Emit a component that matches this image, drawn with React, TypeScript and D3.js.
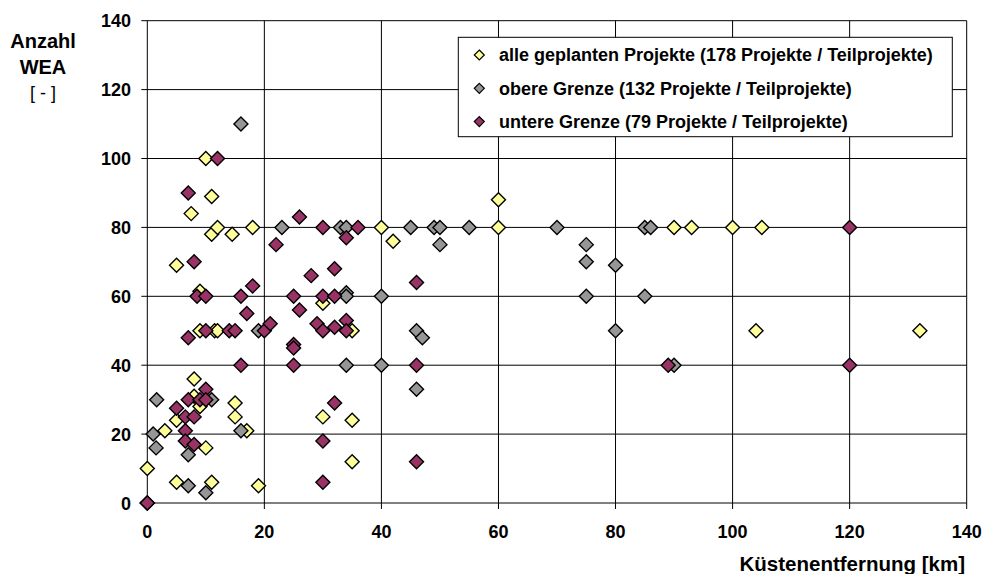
import React from "react";
import * as d3 from "d3";

type Pt = [number, number];

// alle geplanten Projekte
const allePlanned: Pt[] = [
  [0, 0], [0, 10], [3, 21], [5, 24], [5, 6], [5, 69], [7.5, 84], [8, 36], [8, 31],
  [9, 28], [9, 61.5], [9, 50], [10, 100], [10, 16], [11, 89], [11, 78], [11, 6],
  [11.5, 50], [12, 50], [12, 80], [14.5, 78], [15, 29], [15, 25], [17, 21], [18, 80],
  [19, 5], [30, 58], [30, 25], [35, 50], [35, 24], [35, 12], [40, 80], [42, 76],
  [60, 88], [60, 80], [90, 80], [93, 80], [100, 80], [104, 50], [105, 80], [132, 50],
];

// obere Grenze
const obereGrenze: Pt[] = [
  [0, 0], [1, 20], [1.5, 16], [1.6, 30], [7, 14], [7, 5], [10, 3], [11, 30], [16, 110],
  [16, 21], [19, 50], [23, 80], [33, 80], [34, 80], [34, 61], [34, 60], [34, 40],
  [40, 60], [40, 40], [45, 80], [46, 50], [46, 33], [47, 48], [49, 80], [50, 80],
  [50, 75], [55, 80], [70, 80], [75, 75], [75, 70], [75, 60], [80, 69], [80, 50],
  [85, 80], [86, 80], [85, 60], [90, 40],
];

// untere Grenze
const untereGrenze: Pt[] = [
  [0, 0], [5, 27.5], [6.5, 25], [6.5, 21], [6.5, 18], [7, 90], [7, 48], [7, 30],
  [8, 70], [8, 25], [8, 17], [8.5, 60], [9, 30], [10, 60], [10, 50], [10, 33], [10, 30],
  [12, 100], [14, 50], [15, 50], [16, 60], [16, 40], [17, 55], [18, 63], [20, 50],
  [21, 52], [22, 75], [25, 60], [25, 46], [25, 45], [25, 40], [26, 83], [26, 56],
  [28, 66], [29, 52], [30, 80], [30, 60], [30, 50], [30, 18], [30, 6], [32, 68],
  [32, 60], [32, 51], [32, 29], [34, 77], [34, 53], [34, 50], [36, 80], [46, 64],
  [46, 40], [46, 12], [89, 40], [120, 80], [120, 40],
];

const seriesNames = [
  "alle geplanten Projekte (178 Projekte / Teilprojekte)",
  "obere Grenze (132 Projekte / Teilprojekte)",
  "untere Grenze (79 Projekte / Teilprojekte)",
];
const seriesColors = ["#FFFF99", "#969696", "#993366"];
const xTicks = [0, 20, 40, 60, 80, 100, 120, 140];
const yTicks = [0, 20, 40, 60, 80, 100, 120, 140];

const W = 984;
const H = 574;
const left = 147.3, right = 966.7, top = 20.7, bottom = 503;
const font = "'Liberation Sans', Arial, sans-serif";

const diamond = (r: number) => `M0,${-r}L${r},0L0,${r}L${-r},0Z`;

export default function App() {
  const x = d3.scaleLinear().domain([0, 140]).range([left, right]);
  const y = d3.scaleLinear().domain([0, 140]).range([bottom, top]);
  const series = [allePlanned, obereGrenze, untereGrenze];

  return (
    <svg width={W} height={H} style={{ position: "absolute", left: 0, top: 0, background: "#fff" }}>
      {/* grid */}
      {xTicks.map((t) => (
        <line key={"gx" + t} x1={x(t)} x2={x(t)} y1={top} y2={bottom + 6} stroke="#000" strokeWidth={1} />
      ))}
      {yTicks.map((t) => (
        <line key={"gy" + t} x1={left - 6} x2={right} y1={y(t)} y2={y(t)} stroke="#000" strokeWidth={1} />
      ))}

      {/* tick labels */}
      {yTicks.map((t) => (
        <text key={"ly" + t} x={131} y={y(t) + 6.5} textAnchor="end" fontFamily={font} fontWeight="bold" fontSize={18}>
          {t}
        </text>
      ))}
      {xTicks.map((t) => (
        <text key={"lx" + t} x={x(t)} y={538} textAnchor="middle" fontFamily={font} fontWeight="bold" fontSize={18}>
          {t}
        </text>
      ))}

      {/* axis titles */}
      <text x={43} y={48.3} textAnchor="middle" fontFamily={font} fontWeight="bold" fontSize={20}>Anzahl</text>
      <text x={43} y={74} textAnchor="middle" fontFamily={font} fontWeight="bold" fontSize={20}>WEA</text>
      <text x={43} y={99} textAnchor="middle" fontFamily={font} fontSize={18}>[ - ]</text>
      <text x={965} y={571} textAnchor="end" fontFamily={font} fontWeight="bold" fontSize={20.5}>Küstenentfernung [km]</text>

      {/* points */}
      {series.map((s, i) => (
        <g key={"s" + i}>
          {s.map((d, j) => (
            <path
              key={j}
              d={diamond(7)}
              transform={`translate(${x(d[0])},${y(d[1])})`}
              fill={seriesColors[i]}
              stroke="#000"
              strokeWidth={1.4}
            />
          ))}
        </g>
      ))}

      {/* legend */}
      <rect x={458.3} y={37.3} width={494} height={99.4} fill="#fff" stroke="#000" strokeWidth={1} />
      {seriesNames.map((n, i) => (
        <g key={"lg" + i}>
          <path d={diamond(5)} transform={`translate(479.3,${55 + i * 33.3})`} fill={seriesColors[i]} stroke="#000" strokeWidth={1.2} />
          <text x={499} y={55 + i * 33.3 + 6.2} fontFamily={font} fontWeight="bold" fontSize={18}>{n}</text>
        </g>
      ))}
    </svg>
  );
}
